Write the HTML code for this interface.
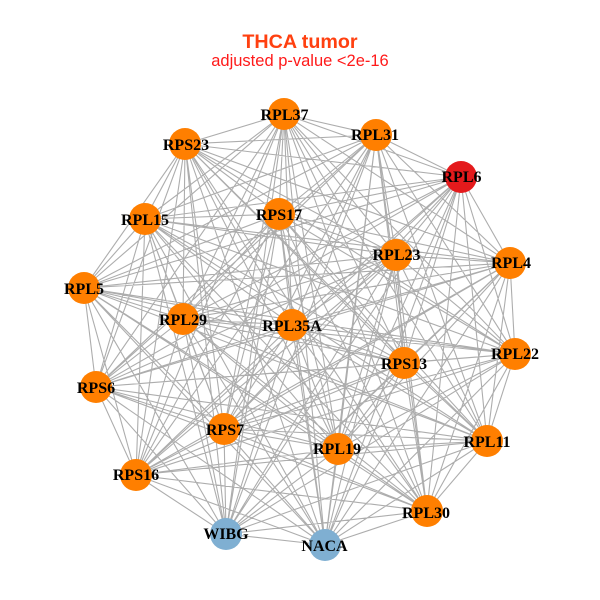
<!DOCTYPE html>
<html>
<head>
<meta charset="utf-8">
<style>
html,body{margin:0;padding:0;background:#fff}
svg{display:block}
.n{font-family:"Liberation Serif",serif;font-weight:bold;font-size:16px;fill:#000;text-anchor:middle}
</style>
</head>
<body>
<svg width="600" height="600" viewBox="0 0 600 600" xmlns="http://www.w3.org/2000/svg">
<rect width="600" height="600" fill="#fff"/>
<path fill="none" stroke="#adadad" stroke-width="1.1" d="
M284 114L376 135 461 177 510 263 515 354 487 441 427 511 325 545 226 534 136 475 96 387 84 288 145 219 185 144 279 214 396 255 404 363 338 449 224 429 183 319 292 325Z
M284 114L461 177 515 354 427 511 226 534 96 387 145 219 279 214 404 363 224 429 292 325 376 135 510 263 487 441 325 545 136 475 84 288 185 144 396 255 338 449 183 319Z
M284 114L510 263 427 511 136 475 145 219 396 255 224 429Z
M376 135L515 354 325 545 96 387 185 144 404 363 183 319Z
M461 177L487 441 226 534 84 288 279 214 338 449 292 325Z
M284 114L515 354 226 534 145 219 404 363 292 325 510 263 325 545 84 288 396 255 183 319 461 177 427 511 96 387 279 214 224 429 376 135 487 441 136 475 185 144 338 449Z
M284 114L487 441 96 387 396 255 292 325 515 354 136 475 279 214 183 319 510 263 226 534 185 144 224 429 461 177 325 545 145 219 338 449 376 135 427 511 84 288 404 363Z
M284 114L427 511 145 219 224 429 510 263 136 475 396 255Z
M376 135L325 545 185 144 183 319 515 354 96 387 404 363Z
M461 177L226 534 279 214 292 325 487 441 84 288 338 449Z
M284 114L325 545 279 214Z
M376 135L226 534 396 255Z
M461 177L136 475 404 363Z
M510 263L96 387 338 449Z
M515 354L84 288 224 429Z
M487 441L145 219 183 319Z
M427 511L185 144 292 325Z
M284 114L226 534 404 363 510 263 84 288 183 319 427 511 279 214 376 135 136 475 338 449 515 354 145 219 292 325 325 545 396 255 461 177 96 387 224 429 487 441 185 144Z
M284 114L136 475 224 429 427 511 396 255 510 263 145 219Z
M376 135L96 387 183 319 325 545 404 363 515 354 185 144Z
M461 177L84 288 292 325 226 534 338 449 487 441 279 214Z
M284 114L96 387 292 325 136 475 183 319 226 534 224 429 325 545 338 449 427 511 404 363 487 441 396 255 515 354 279 214 510 263 185 144 461 177 145 219 376 135 84 288Z"/>
<g fill="#ff7f00">
<circle cx="284" cy="114" r="16"/>
<circle cx="376" cy="135" r="16"/>
<circle cx="461" cy="177" r="16" fill="#e41a1c"/>
<circle cx="510" cy="263" r="16"/>
<circle cx="515" cy="354" r="16"/>
<circle cx="487" cy="441" r="16"/>
<circle cx="427" cy="511" r="16"/>
<circle cx="325" cy="545" r="16" fill="#7fafd2"/>
<circle cx="226" cy="534" r="16" fill="#7fafd2"/>
<circle cx="136" cy="475" r="16"/>
<circle cx="96" cy="387" r="16"/>
<circle cx="84" cy="288" r="16"/>
<circle cx="145" cy="219" r="16"/>
<circle cx="185" cy="144" r="16"/>
<circle cx="279" cy="214" r="16"/>
<circle cx="396" cy="255" r="16"/>
<circle cx="404" cy="363" r="16"/>
<circle cx="338" cy="449" r="16"/>
<circle cx="224" cy="429" r="16"/>
<circle cx="183" cy="319" r="16"/>
<circle cx="292" cy="325" r="16"/>
</g>
<text class="n" x="284.5" y="120">RPL37</text>
<text class="n" x="375" y="140">RPL31</text>
<text class="n" x="461.5" y="182">RPL6</text>
<text class="n" x="511" y="268">RPL4</text>
<text class="n" x="515" y="359">RPL22</text>
<text class="n" x="487" y="447">RPL11</text>
<text class="n" x="426" y="518">RPL30</text>
<text class="n" x="324.5" y="551">NACA</text>
<text class="n" x="226" y="539">WIBG</text>
<text class="n" x="136" y="480">RPS16</text>
<text class="n" x="96" y="393">RPS6</text>
<text class="n" x="84" y="294">RPL5</text>
<text class="n" x="145" y="225">RPL15</text>
<text class="n" x="186" y="150">RPS23</text>
<text class="n" x="279" y="220">RPS17</text>
<text class="n" x="396.5" y="260">RPL23</text>
<text class="n" x="404" y="369">RPS13</text>
<text class="n" x="337" y="454">RPL19</text>
<text class="n" x="225" y="435">RPS7</text>
<text class="n" x="183" y="325">RPL29</text>
<text class="n" x="292" y="331">RPL35A</text>
<text x="300" y="48" text-anchor="middle" font-family="Liberation Sans, sans-serif" font-weight="bold" font-size="19.7" fill="#ff4010">THCA tumor</text>
<text x="300" y="66" text-anchor="middle" font-family="Liberation Sans, sans-serif" font-size="16.5" fill="#ff1a1a">adjusted p-value &lt;2e-16</text>
</svg>
</body>
</html>
